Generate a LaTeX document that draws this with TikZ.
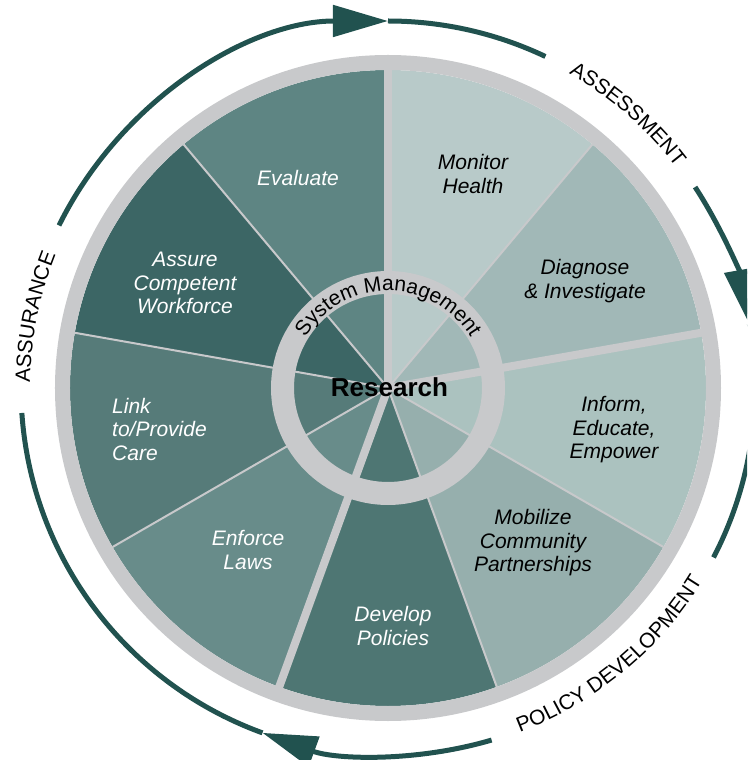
\documentclass[tikz,border=0pt]{standalone}
\usepackage{fontspec}
\setmainfont{Liberation Sans}
\usepackage{tikz}
\usetikzlibrary{arrows.meta,decorations.text}

\definecolor{ringgray}{HTML}{C8C9CB}
\definecolor{cycleteal}{HTML}{21524F}
\definecolor{monitorfill}{HTML}{B8CAC9}
\definecolor{diagnosefill}{HTML}{A1B8B7}
\definecolor{informfill}{HTML}{ABC2BF}
\definecolor{mobilizefill}{HTML}{96AFAD}
\definecolor{developfill}{HTML}{4E7673}
\definecolor{enforcefill}{HTML}{688C8A}
\definecolor{linkfill}{HTML}{567B79}
\definecolor{assurefill}{HTML}{3C6665}
\definecolor{evaluatefill}{HTML}{5E8583}

\newcommand{\wheelfont}{\fontsize{21}{23.5}\selectfont}
\newcommand{\hubfont}{\fontsize{26}{30}\selectfont\bfseries}

\begin{document}
\begin{tikzpicture}[
    x=1pt, y=1pt,
    thinsep/.style={draw=ringgray, line width=2pt},
    groupsep/.style={draw=ringgray, line width=8pt},
    seglabel/.style={font=\wheelfont\itshape, align=center, inner sep=0pt},
    lightlabel/.style={seglabel, text=black},
    darklabel/.style={seglabel, text=white},
    cyclearc/.style={draw=cycleteal, line width=5pt},
    cyclehead/.style={cyclearc, -{Triangle[length=55pt, width=31pt]}},
    phase/.style={decorate, decoration={text along path, text align=center, text={|\wheelfont|#1}}}
]

    % Page frame
    \useasboundingbox (-388,-372) rectangle (359,388);
    \clip (-388,-372) rectangle (359,388);
    \coordinate (hub) at (0,0);

    % Sectors
    \fill[monitorfill] (hub) -- (90:318) arc[start angle=90, end angle=50, radius=318] -- cycle;
    \fill[diagnosefill] (hub) -- (50:318) arc[start angle=50, end angle=10, radius=318] -- cycle;
    \fill[informfill] (hub) -- (10:318) arc[start angle=10, end angle=-30, radius=318] -- cycle;
    \fill[mobilizefill] (hub) -- (-30:318) arc[start angle=-30, end angle=-70, radius=318] -- cycle;
    \fill[developfill] (hub) -- (-70:318) arc[start angle=-70, end angle=-110, radius=318] -- cycle;
    \fill[enforcefill] (hub) -- (-110:318) arc[start angle=-110, end angle=-150, radius=318] -- cycle;
    \fill[linkfill] (hub) -- (-150:318) arc[start angle=-150, end angle=-190, radius=318] -- cycle;
    \fill[assurefill] (hub) -- (170:318) arc[start angle=170, end angle=130, radius=318] -- cycle;
    \fill[evaluatefill] (hub) -- (130:318) arc[start angle=130, end angle=90, radius=318] -- cycle;

    % Separators
    \draw[thinsep] (hub) -- (50:318);
    \draw[thinsep] (hub) -- (-30:318);
    \draw[thinsep] (hub) -- (-70:318);
    \draw[thinsep] (hub) -- (-150:318);
    \draw[thinsep] (hub) -- (170:318);
    \draw[thinsep] (hub) -- (130:318);
    \draw[groupsep] (hub) -- (90:320);
    \draw[groupsep] (hub) -- (10:320);
    \draw[groupsep] (hub) -- (-110:320);

    % Rings
    \draw[draw=ringgray, line width=15pt] (hub) circle[radius=325.5];
    \draw[draw=ringgray, line width=23pt] (hub) circle[radius=105.5];

    % Service labels
    \node[lightlabel] (monitor) at (85,214) {Monitor\\Health};
    \node[lightlabel] (diagnose) at (197,107) {Diagnose\\\& Investigate};
    \node[lightlabel] (inform) at (226,-42) {Inform,\\Educate,\\Empower};
    \node[lightlabel] (mobilize) at (145,-155) {Mobilize\\Community\\Partnerships};
    \node[darklabel] (develop) at (5,-238) {Develop\\Policies};
    \node[darklabel] (enforce) at (-140,-162) {Enforce\\Laws};
    \node[darklabel, align=left, anchor=west] (linkcare) at (-276,-41) {Link\\to/Provide\\Care};
    \node[darklabel] (assure) at (-203,105) {Assure\\Competent\\Workforce};
    \node[darklabel] (evaluate) at (-90,210) {Evaluate};

    % Hub
    \node[font=\hubfont, inner sep=0pt] (research) at (1.5,1) {Research};
    \path[phase={System Management}] (150:97) arc[start angle=150, end angle=30, radius=97];

    % Cycle arrows
    \draw[cyclehead] (153.7:367) arc[start angle=153.7, end angle=90, radius=367];
    \draw[cyclearc] (90:367) arc[start angle=90, end angle=64.6, radius=367];
    \draw[cyclehead] (33.2:367) arc[start angle=33.2, end angle=10, radius=367];
    \draw[cyclearc] (10:367) arc[start angle=10, end angle=-27.5, radius=367];
    \draw[cyclehead] (-73.6:367) arc[start angle=-73.6, end angle=-110, radius=367];
    \draw[cyclearc] (-110:367) arc[start angle=-110, end angle=-176.1, radius=367];

    % Phase labels
    \path[phase={ASSESSMENT}] (78.8:363) arc[start angle=78.8, end angle=18.8, radius=363];
    \path[phase={POLICY DEVELOPMENT}] (-85.3:369) arc[start angle=-85.3, end angle=-15.3, radius=369];
    \path[phase={ASSURANCE}] (198.6:358) arc[start angle=198.6, end angle=138.6, radius=358];

\end{tikzpicture}
\end{document}
